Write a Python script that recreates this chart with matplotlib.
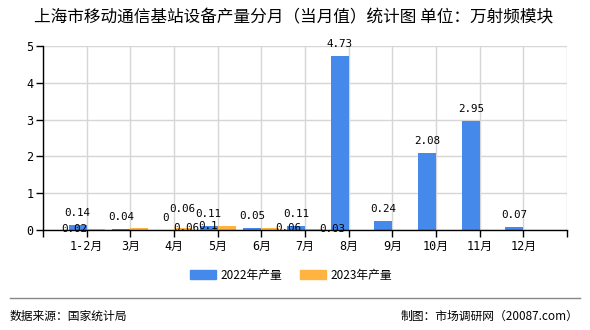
import matplotlib.pyplot as plt
from matplotlib.patches import Patch

plt.rcParams['font.family'] = ['Noto Sans CJK SC', 'DejaVu Sans']

# 上海市移动通信基站设备产量（万射频模块）
months = ['1-2月', '3月', '4月', '5月', '6月', '7月', '8月', '9月', '10月', '11月', '12月']
prod_2022 = [0.14, 0.04, 0, 0.11, 0.05, 0.11, 4.73, 0.24, 2.08, 2.95, 0.07]
prod_2023 = [0.02, 0.06, 0.06, 0.1, 0.06, 0.03]

# 2023 数值标签的位移（像素），避免与其他标签重叠
nudge_2023 = [(-21, 0), (47, 0), (-1, 19), (-19, 0), (18, 0), (18, 0)]

c2022 = '#4589EB'
c2023 = '#FFB340'
num_font = ['DejaVu Sans Mono', 'Noto Sans CJK SC']

fig = plt.figure(figsize=(5.9, 3.3), dpi=100)
ax = fig.add_axes([43 / 590, 1 - 230 / 330, (567 - 43) / 590, (230 - 46) / 330])

x = list(range(1, len(months) + 1))
w = 0.41
ax.bar([i - w / 2 for i in x], prod_2022, width=w, color=c2022, zorder=2)
ax.bar([i + w / 2 for i in x[:len(prod_2023)]], prod_2023, width=w, color=c2023, zorder=2)

for i, v in zip(x, prod_2022):
    ax.annotate(f'{v:g}', (i - w / 2, v), xytext=(0, 12), textcoords='offset pixels',
                ha='center', va='center', fontsize=7.8, family=num_font, zorder=3)
for i, v, (dx, dy) in zip(x, prod_2023, nudge_2023):
    ax.annotate(f'{v:g}', (i + w / 2, v), xytext=(dx, dy), textcoords='offset pixels',
                ha='center', va='center', fontsize=7.8, family=num_font, zorder=3)

ax.set_xlim(0, 12)
ax.set_ylim(0, 5)
ax.set_xticks(range(0, 13))
ax.set_xticklabels([''] + months + [''], fontsize=8.5, family=num_font)
ax.set_yticks(range(0, 6))
ax.set_yticklabels([str(t) for t in range(0, 6)], fontsize=8.5, family=num_font)
ax.tick_params(length=5, width=1, color='black', pad=2)
ax.grid(True, color='#D6D6D6', linewidth=1)
ax.set_axisbelow(True)
for s in ['top', 'right']:
    ax.spines[s].set_visible(False)
for s in ['left', 'bottom']:
    ax.spines[s].set_color('black')
    ax.spines[s].set_linewidth(1)

fig.text(0.498, 1 - 18 / 330, '上海市移动通信基站设备产量分月（当月值）统计图 单位：万射频模块',
         ha='center', va='center', fontsize=12)

handles = [Patch(color=c2022, label='2022年产量'), Patch(color=c2023, label='2023年产量')]
fig.legend(handles=handles, loc='center', bbox_to_anchor=(291 / 590, 1 - 275 / 330), ncol=2,
           frameon=False, fontsize=8.5, handlelength=2.2, handleheight=0.8, columnspacing=1.5,
           handletextpad=0.4)

fig.add_artist(plt.Line2D([10 / 590, 580 / 590], [1 - 298 / 330] * 2, color='#888888', linewidth=1))
fig.text(10 / 590, 1 - 316 / 330, '数据来源：国家统计局', ha='left', va='center', fontsize=8.5)
fig.text(578 / 590, 1 - 316 / 330, '制图：市场调研网（20087.com）', ha='right', va='center', fontsize=8.5)

fig.savefig('out.png', dpi=100)
